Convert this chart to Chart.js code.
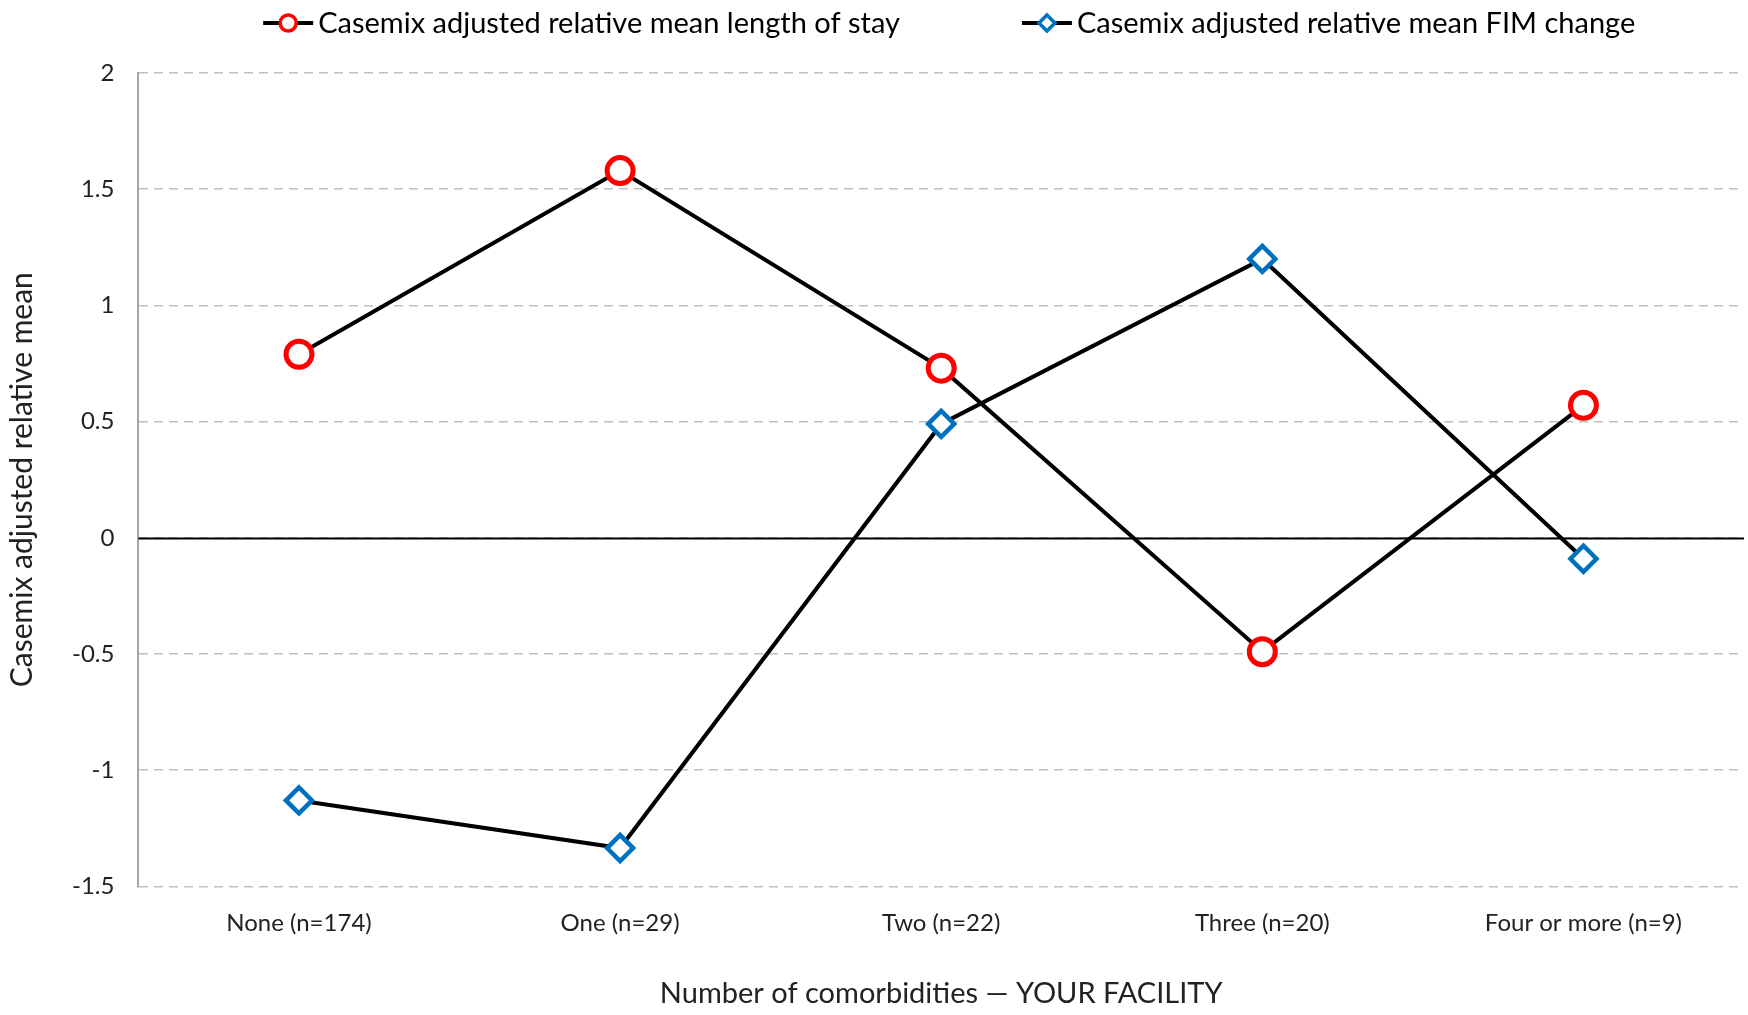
<!DOCTYPE html>
<html>
<head>
<meta charset="utf-8">
<script src="https://cdn.jsdelivr.net/npm/chart.js@4.4.1/dist/chart.umd.min.js"></script>
<style>
  html, body { margin: 0; padding: 0; background: #fff; overflow: hidden; }
  #wrap { width: 1748px; height: 1015px; }
  canvas { display: block; }
</style>
</head>
<body>
<div id="wrap"><canvas id="chart" width="1748" height="1015"></canvas></div>
<script>
// Categories and values
const categories = ['None (n=174)', 'One (n=29)', 'Two (n=22)', 'Three (n=20)', 'Four or more (n=9)'];
const losValues = [0.79, 1.58, 0.73, -0.49, 0.57];
const fimValues = [-1.13, -1.335, 0.49, 1.20, -0.09];
const seriesLabels = [
    'Casemix adjusted relative mean length of stay',
    'Casemix adjusted relative mean FIM change'
];
const yTicks = { min: -1.5, max: 2, step: 0.5 };

const FONT = 'Lato, "Open Sans", sans-serif';

// Solid black line at zero, over the dashed grid
const zeroLine = {
    id: 'zeroLine',
    beforeDatasetsDraw(chart) {
        const { ctx, chartArea, scales } = chart;
        const y = Math.round(scales.y.getPixelForValue(0)) + 0.5;
        ctx.save();
        ctx.strokeStyle = '#000';
        ctx.lineWidth = 2;
        ctx.beginPath();
        ctx.moveTo(chartArea.left, y);
        ctx.lineTo(chartArea.right, y);
        ctx.stroke();
        ctx.restore();
    }
};

// Legend with line + marker like the original
const lineLegend = {
    id: 'lineLegend',
    afterDraw(chart) {
        const { ctx, chartArea } = chart;
        const markW = 50, textGap = 5, itemGap = 122, y = 23;
        ctx.save();
        ctx.font = '29px ' + FONT;
        ctx.textBaseline = 'middle';
        const items = chart.data.datasets.map(ds => ({ ds, w: ctx.measureText(ds.label).width }));
        const total = items.reduce((s, it) => s + markW + textGap + it.w, 0) + itemGap * (items.length - 1);
        let x = (chartArea.left + chartArea.right) / 2 + 8 - total / 2;
        items.forEach(({ ds, w }) => {
            ctx.strokeStyle = '#000';
            ctx.lineWidth = 4;
            ctx.beginPath();
            ctx.moveTo(x, y);
            ctx.lineTo(x + markW, y);
            ctx.stroke();
            ctx.fillStyle = '#fff';
            ctx.strokeStyle = ds.pointBorderColor;
            ctx.lineWidth = 3.5;
            Chart.helpers.drawPoint(ctx, { pointStyle: ds.pointStyle, radius: 8, rotation: 0, borderWidth: 3.5 }, x + markW / 2, y);
            ctx.fillStyle = '#000';
            ctx.fillText(ds.label, x + markW + textGap, y + 1);
            x += markW + textGap + w + itemGap;
        });
        ctx.restore();
    }
};

new Chart(document.getElementById('chart'), {
    type: 'line',
    data: {
        labels: categories,
        datasets: [{
            label: seriesLabels[0],
            data: losValues,
            borderColor: '#000',
            borderWidth: 4,
            pointStyle: 'circle',
            pointRadius: 13,
            pointBorderWidth: 5,
            pointBorderColor: '#ff0000',
            pointBackgroundColor: '#fff',
            tension: 0
        }, {
            label: seriesLabels[1],
            data: fimValues,
            borderColor: '#000',
            borderWidth: 4,
            pointStyle: 'rectRot',
            pointRadius: 13,
            pointBorderWidth: 4.5,
            pointBorderColor: '#0070c0',
            pointBackgroundColor: '#fff',
            tension: 0
        }]
    },
    options: {
        responsive: false,
        animation: false,
        layout: { autoPadding: false, padding: { top: 73, right: 4, bottom: 0, left: 4 } },
        plugins: {
            legend: { display: false },
            tooltip: { enabled: false }
        },
        scales: {
            x: {
                offset: true,
                grid: { display: false, drawTicks: false },
                border: { display: false },
                ticks: { color: '#222', font: { family: FONT, size: 24 }, padding: 22 },
                title: {
                    display: true,
                    text: 'Number of comorbidities \u2014 YOUR FACILITY',
                    color: '#222',
                    font: { family: FONT, size: 29 },
                    padding: { top: 17, bottom: 4 }
                }
            },
            y: {
                min: yTicks.min,
                max: yTicks.max,
                grid: { color: '#c0c0c0', lineWidth: 1.5, drawTicks: false },
                border: { display: true, color: '#a6a6a6', width: 2, dash: [9, 6] },
                ticks: {
                    stepSize: yTicks.step,
                    color: '#222',
                    font: { family: FONT, size: 24 },
                    padding: 24,
                    callback: v => String(v)
                },
                title: {
                    display: true,
                    text: 'Casemix adjusted relative mean',
                    color: '#222',
                    font: { family: FONT, size: 30 },
                    padding: { top: 0, bottom: 8 }
                }
            }
        }
    },
    plugins: [zeroLine, lineLegend]
});
</script>
</body>
</html>
